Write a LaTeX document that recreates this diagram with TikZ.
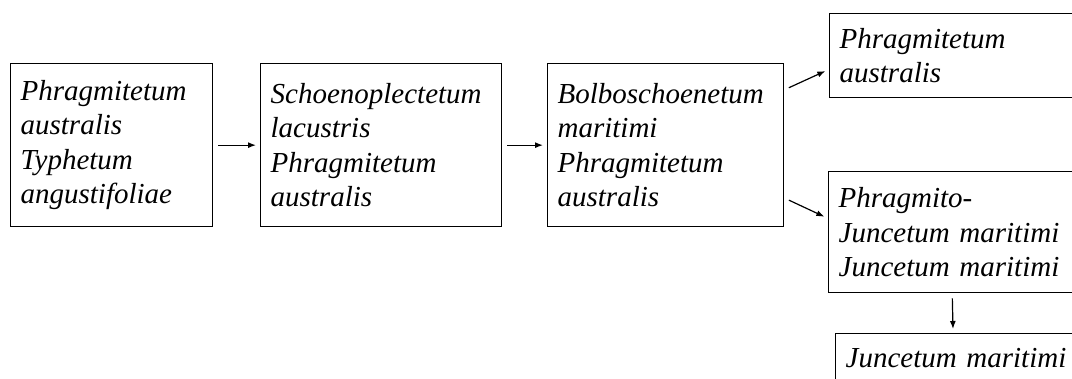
\documentclass[tikz,border=0pt]{standalone}
\usepackage{fontspec}
\setmainfont{Liberation Serif}
\usepackage{tikz}
\usetikzlibrary{arrows.meta,positioning}

\begin{document}
\begin{tikzpicture}[x=1pt,y=-1pt,every node/.style={font=\fontsize{29}{34.5}\selectfont\itshape,align=left},stage/.style={draw,line width=1.3pt,anchor=north west,inner xsep=10pt,inner ysep=0pt,text width=#1},succ/.style={-{Latex[length=8pt,width=6pt]},line width=1.2pt,shorten <=5pt,shorten >=4pt}]
\useasboundingbox (0,0) rectangle (1072,378);
\clip (0,0) rectangle (1072,378);
\node[stage=182pt,minimum height=163pt] (phrag) at (10,63) {Phragmitetum\\australis\\Typhetum\\angustifoliae};
\node[stage=221pt,minimum height=163pt] (schoen) at (260,63) {Schoenoplectetum\\lacustris\\Phragmitetum\\australis};
\node[stage=216pt,minimum height=163pt] (bolbo) at (547,63) {Bolboschoenetum\\maritimi\\Phragmitetum\\australis};
\node[stage=240pt,minimum height=84pt] (phragtop) at (829,13) {Phragmitetum\\australis};
\node[stage=240pt,minimum height=121pt] (phragjunc) at (828,171) {Phragmito-\\Juncetum maritimi\\Juncetum maritimi};
\node[stage=240pt,minimum height=48pt] (junc) at (835,333) {Juncetum maritimi};
\draw[succ] (phrag) -- (schoen);
\draw[succ] (schoen) -- (bolbo);
\draw[succ] (bolbo.25.6) -- (phragtop.186);
\draw[succ] (bolbo.-24) -- (phragjunc.174);
\draw[succ] (phragjunc.264) -- (junc.117);
\end{tikzpicture}
\end{document}
